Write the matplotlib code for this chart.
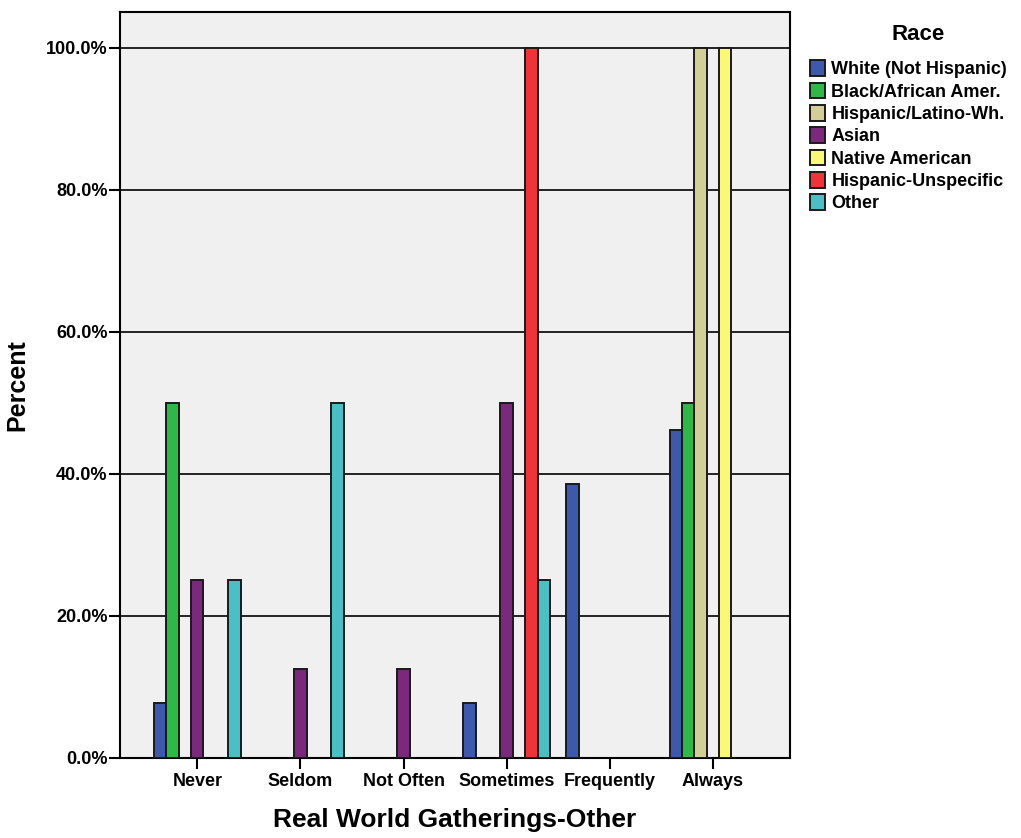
import matplotlib
matplotlib.use("Agg")
import matplotlib.pyplot as plt
import numpy as np
from matplotlib.ticker import FuncFormatter

plt.rcParams['font.family'] = ['Liberation Sans', 'DejaVu Sans']
plt.rcParams['font.weight'] = 'bold'

categories = ['Never', 'Seldom', 'Not Often', 'Sometimes', 'Frequently', 'Always']
races = ['White (Not Hispanic)', 'Black/African Amer.', 'Hispanic/Latino-Wh.',
         'Asian', 'Native American', 'Hispanic-Unspecific', 'Other']
colors = ['#3E58AC', '#2EB848', '#D3CE97', '#7C287D', '#FBF873', '#EF3338', '#48C0C6']

# percent per race across categories
white = [7.7, 0, 0, 7.7, 38.5, 46.2]
black = [50, 0, 0, 0, 0, 50]
hisp_wh = [0, 0, 0, 0, 0, 100]
asian = [25, 12.5, 12.5, 50, 0, 0]
native = [0, 0, 0, 0, 0, 100]
hisp_un = [0, 0, 0, 100, 0, 0]
other = [25, 50, 0, 25, 0, 0]
series = [white, black, hisp_wh, asian, native, hisp_un, other]

fig = plt.figure(figsize=(10.21, 8.38), dpi=100)
ax = fig.add_axes([0.1175, 0.0955, 0.6565, 0.8902])
ax.set_facecolor('#F0F0F0')

x = np.arange(len(categories))
w = 0.12
for i, (vals, c, name) in enumerate(zip(series, colors, races)):
    vals = np.array(vals, dtype=float)
    pos = x + (i - 3) * w
    mask = vals > 0
    ax.bar(pos[mask], vals[mask], width=w, color=c, edgecolor='#1a1a1a',
           linewidth=1.4, zorder=3)
    ax.bar([np.nan], [0], width=w, color=c, edgecolor='#1a1a1a', linewidth=1.4, label=name)

ax.set_xlim(-0.75, 5.75)
ax.set_ylim(0, 105)
ax.set_yticks([0, 20, 40, 60, 80, 100])
ax.yaxis.set_major_formatter(FuncFormatter(lambda v, p: f'{v:.1f}%'))
ax.set_xticks(x)
ax.set_xticklabels(categories)
ax.grid(axis='y', color='black', linewidth=1.2, zorder=1)
ax.set_axisbelow(True)
for s in ax.spines.values():
    s.set_linewidth(1.5)
ax.tick_params(axis='both', length=8, width=1.5, labelsize=13)
ax.tick_params(axis='y', pad=1)
ax.tick_params(axis='x', pad=3)
for lab in ax.get_xticklabels() + ax.get_yticklabels():
    lab.set_fontweight('bold')

ax.set_ylabel('Percent', fontsize=18, fontweight='bold', labelpad=12)
ax.set_xlabel('Real World Gatherings-Other', fontsize=19, fontweight='bold', labelpad=13)

fig.text(918 / 1021, 1 - 35 / 838, 'Race', ha='center', va='center',
         fontsize=16, fontweight='bold')
leg = fig.legend(loc='upper left', bbox_to_anchor=(0.793, 0.928),
                 frameon=False, fontsize=13,
                 handlelength=0.85, handleheight=0.95, handletextpad=0.35,
                 labelspacing=0.24, borderaxespad=0, borderpad=0)
for t in leg.get_texts():
    t.set_fontweight('bold')

fig.savefig('out.png', dpi=100)
